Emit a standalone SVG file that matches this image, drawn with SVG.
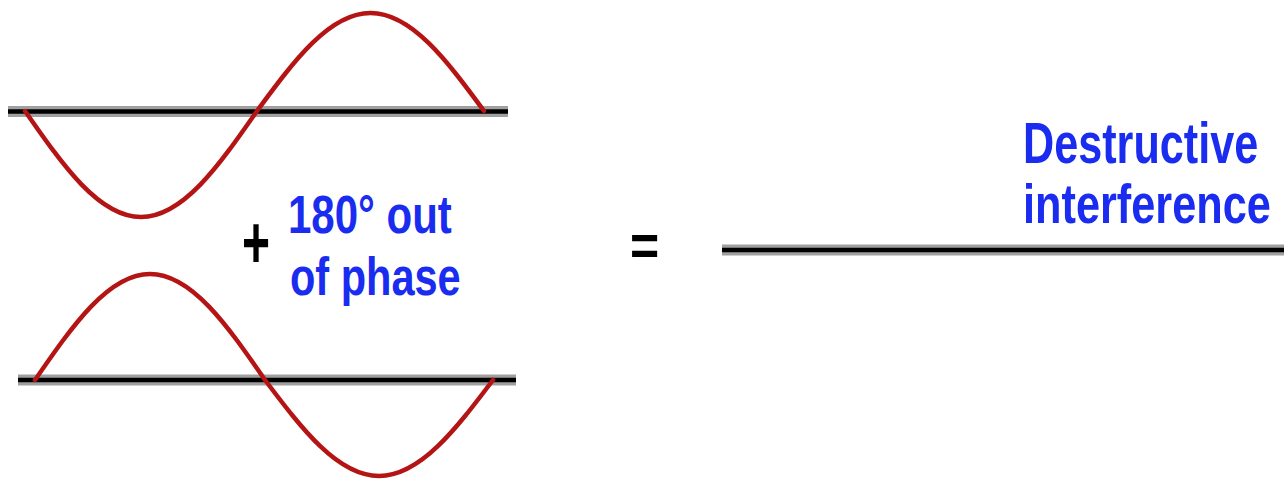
<svg xmlns="http://www.w3.org/2000/svg" width="1284" height="482" viewBox="0 0 1284 482">
  <style>
    .axis-bg { stroke: #a0a0a0; stroke-width: 11; fill: none; }
    .axis { stroke: #000000; stroke-width: 4.5; fill: none; }
    .wave { stroke: #b41414; stroke-width: 4.5; fill: none; stroke-linecap: round; }
    .label { font-family: "Liberation Sans", Arial, sans-serif; font-weight: bold; fill: #1a2cf0; }
    .op { font-family: "Liberation Sans", Arial, sans-serif; font-weight: bold; fill: #000000; text-anchor: middle; }
  </style>
  <rect width="1284" height="482" fill="#ffffff"/>

  <g id="wave-top">
    <line class="axis-bg" x1="8" y1="111.5" x2="508" y2="111.5"/>
    <line class="axis" x1="8" y1="111.5" x2="508" y2="111.5"/>
    <path class="wave" d="M25,111 C62.8,165.3 99,217 141,217 C183,217 219.2,165.3 257,111 C294,60.8 329.4,13 370.5,13 C411.6,13 447,60.8 484,111"/>
  </g>

  <g id="wave-bottom">
    <line class="axis-bg" x1="18" y1="380" x2="516" y2="380"/>
    <line class="axis" x1="18" y1="380" x2="516" y2="380"/>
    <path class="wave" d="M35,380 C72.5,325.7 108.4,274 150,274 C191.6,274 227.5,325.7 265,380 C302.2,429.2 337.7,476 379,476 C420.3,476 455.8,429.2 493,380"/>
  </g>

  <g id="plus">
    <text class="op" font-size="48" transform="translate(256,268) scale(1,1.54)">+</text>
  </g>

  <g id="phase-label">
    <text class="label" font-size="42" transform="translate(288,233) scale(1,1.27)">180° out</text>
    <text class="label" font-size="41.5" transform="translate(290,295) scale(1,1.28)">of phase</text>
  </g>

  <g id="equals">
    <text class="op" font-size="50" transform="translate(644.5,264.5) scale(1,1.15)">=</text>
  </g>

  <g id="result">
    <line class="axis-bg" x1="722" y1="250" x2="1284" y2="250"/>
    <line class="axis" x1="722" y1="250" x2="1284" y2="250"/>
  </g>

  <g id="result-label">
    <text class="label" font-size="43.2" transform="translate(1023,163) scale(1,1.32)">Destructive</text>
    <text class="label" font-size="43.3" transform="translate(1023,223) scale(1,1.27)">interference</text>
  </g>
</svg>
